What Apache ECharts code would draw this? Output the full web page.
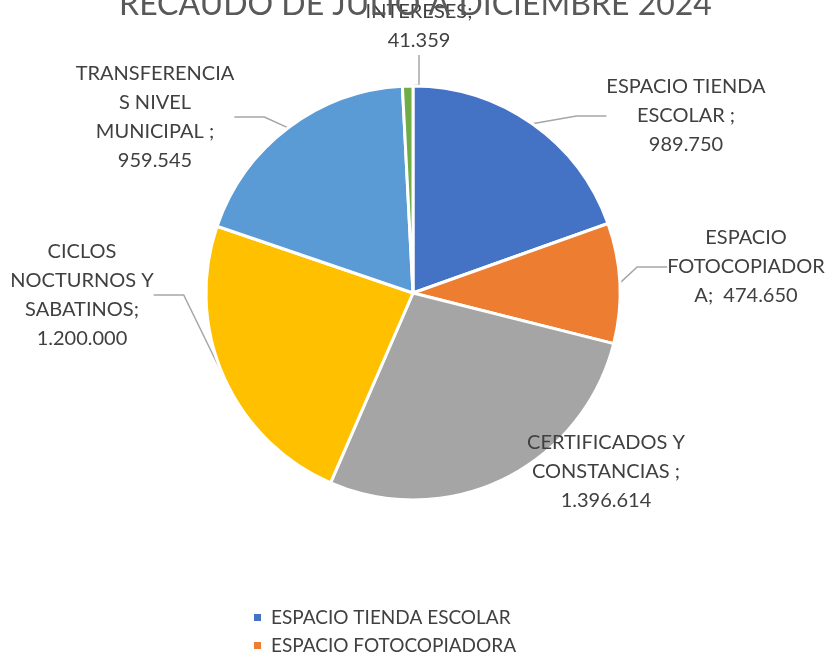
<!DOCTYPE html>
<html lang="es">
<head>
    <meta charset="UTF-8">
    <title>Recaudo de julio a diciembre 2024</title>
    <script src="https://cdn.jsdelivr.net/npm/echarts@6/dist/echarts.min.js"></script>
    <style>
        html, body { margin: 0; padding: 0; background: #ffffff; }
        #main { width: 831px; height: 656px; }
    </style>
</head>
<body>
<div id="main"></div>
<script>
    // datos del grafico
    var categorias = ['ESPACIO TIENDA ESCOLAR', 'ESPACIO FOTOCOPIADORA', 'CERTIFICADOS Y CONSTANCIAS',
        'CICLOS NOCTURNOS Y SABATINOS', 'TRANSFERENCIAS NIVEL MUNICIPAL', 'INTERESES'];
    var valores = [989750, 474650, 1396614, 1200000, 959545, 41359];
    // texto de etiqueta tal como se corta en la imagen
    var etiquetas = ['ESPACIO TIENDA\nESCOLAR ;\n', 'ESPACIO\nFOTOCOPIADOR\nA;  ', 'CERTIFICADOS Y\nCONSTANCIAS ;\n',
        'CICLOS\nNOCTURNOS Y\nSABATINOS;\n', 'TRANSFERENCIA\nS NIVEL\nMUNICIPAL ;\n', 'INTERESES;\n'];
    var colores = ['#4472C4', '#ED7D31', '#A5A5A5', '#FFC000', '#5B9BD5', '#70AD47'];

    // posicion (centro) de cada etiqueta
    var posEtiq = [[686, 116], [746, 267], [606, 472], [82, 295], [155, 117], [419, 26]];

    function miles(v) {
        return String(v).replace(/\B(?=(\d{3})+(?!\d))/g, '.');
    }

    var datos = categorias.map(function (c, i) {
        var d = {name: c, value: valores[i]};
        if (i == 2) {
            d.labelLine = {show: false};
        }
        return d;
    });

    var myChart = echarts.init(document.getElementById('main'));
    var option = {
        color: colores,
        title: {
            text: 'RECAUDO DE JULIO A DICIEMBRE 2024',
            left: 'center',
            top: -16,
            textStyle: {
                fontFamily: 'Lato',
                fontSize: 32,
                fontWeight: 'normal',
                color: '#595959'
            }
        },
        legend: {
            orient: 'vertical',
            left: 249,
            top: 603,
            height: 300,
            itemGap: 9,
            itemWidth: 7,
            itemHeight: 7,
            icon: 'rect',
            itemStyle: {borderWidth: 0},
            textStyle: {
                fontFamily: 'Lato',
                fontSize: 19,
                color: '#404040',
                padding: [0, 0, 0, 5]
            },
            data: categorias
        },
        series: [
            {
                type: 'pie',
                center: [413, 293],
                radius: 207,
                startAngle: 90,
                clockwise: true,
                itemStyle: {
                    borderColor: '#ffffff',
                    borderWidth: 3
                },
                label: {
                    show: true,
                    fontFamily: 'Lato',
                    fontSize: 20,
                    lineHeight: 29,
                    color: '#404040',
                    align: 'center',
                    overflow: 'none',
                    formatter: function (p) {
                        return etiquetas[p.dataIndex] + miles(p.value);
                    }
                },
                labelLine: {
                    show: true,
                    length: 20,
                    length2: 30,
                    lineStyle: {color: '#A6A6A6', width: 1.5}
                },
                labelLayout: function (p) {
                    var pos = posEtiq[p.dataIndex];
                    return {
                        x: pos[0],
                        y: pos[1],
                        align: 'center',
                        verticalAlign: 'middle'
                    };
                },
                emphasis: {scale: false},
                data: datos
            }
        ]
    };
    myChart.setOption(option);
</script>
</body>
</html>
